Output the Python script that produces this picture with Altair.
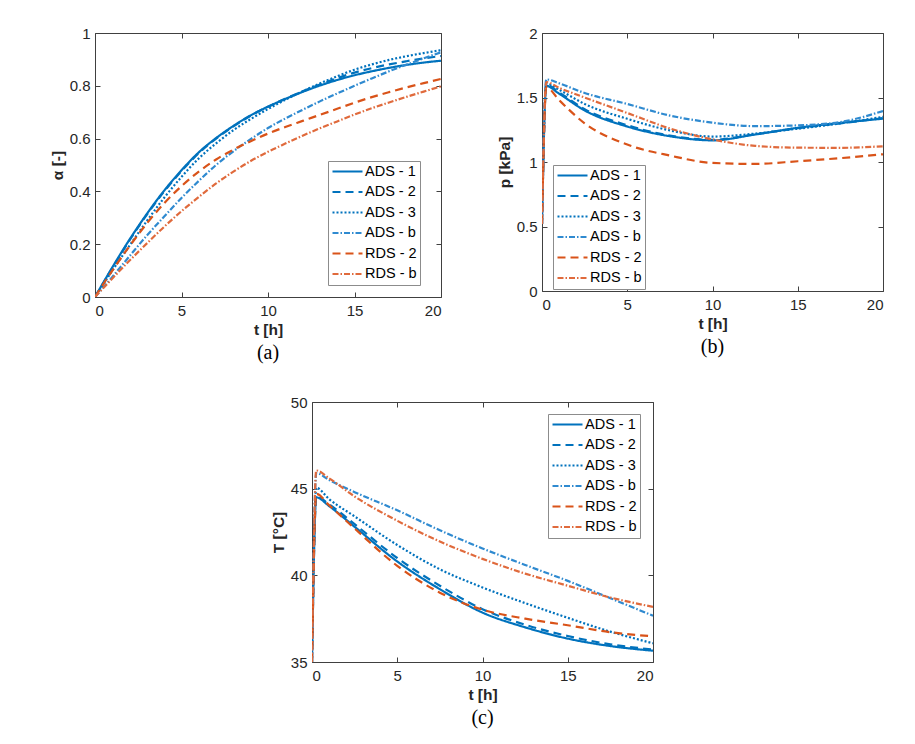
import altair as alt
import pandas as pd

SERIES = ["ADS - 1", "ADS - 2", "ADS - 3", "ADS - b", "RDS - 2", "RDS - b"]
COLORS = ["#0072BD", "#0072BD", "#0072BD", "#2F8AD0", "#D95319", "#E06A3C"]
DASHES = [[1, 0], [8, 5], [2, 2], [6, 2, 1.5, 2], [8, 5], [6, 2, 1.5, 2]]
WIDTHS = [2.2, 2.2, 2.2, 0.9, 2.2, 0.9]
X_TICKS = [0, 5, 10, 15, 20]

# ---------------- (a) degree of conversion alpha ----------------
t_a = list(range(21))
ads1_a = [0, 0.112, 0.218, 0.315, 0.403, 0.48, 0.548, 0.602, 0.648, 0.688, 0.721,
          0.75, 0.777, 0.801, 0.822, 0.84, 0.855, 0.868, 0.879, 0.888, 0.895]
ads2_a = [0, 0.11, 0.215, 0.312, 0.4, 0.477, 0.545, 0.6, 0.646, 0.687, 0.721,
          0.751, 0.779, 0.805, 0.829, 0.85, 0.867, 0.881, 0.893, 0.904, 0.913]
ads3_a = [0, 0.1, 0.195, 0.288, 0.376, 0.455, 0.525, 0.582, 0.632, 0.674, 0.712,
          0.747, 0.779, 0.809, 0.836, 0.861, 0.881, 0.898, 0.912, 0.924, 0.935]
adsb_a = [0, 0.076, 0.155, 0.233, 0.305, 0.375, 0.44, 0.5, 0.552, 0.598, 0.64,
          0.676, 0.709, 0.741, 0.771, 0.8, 0.828, 0.855, 0.88, 0.904, 0.927]
rds2_a = [0, 0.1, 0.193, 0.279, 0.355, 0.42, 0.475, 0.521, 0.558, 0.59, 0.619,
          0.644, 0.667, 0.69, 0.713, 0.736, 0.757, 0.776, 0.794, 0.81, 0.826]
rdsb_a = [0, 0.07, 0.138, 0.203, 0.266, 0.325, 0.379, 0.43, 0.475, 0.515, 0.55,
          0.581, 0.611, 0.639, 0.665, 0.691, 0.715, 0.737, 0.758, 0.778, 0.798]

# ---------------- (b) pressure p [kPa] ----------------
t_b = [0, 0.25, 1, 2.5, 5, 7.5, 10, 12.5, 15, 17.5, 20]
ads1_b = [0.52, 1.59, 1.53, 1.40, 1.275, 1.2, 1.168, 1.213, 1.265, 1.303, 1.336]
ads2_b = [0.52, 1.60, 1.54, 1.41, 1.285, 1.205, 1.172, 1.215, 1.262, 1.30, 1.34]
ads3_b = [0.52, 1.61, 1.56, 1.45, 1.335, 1.245, 1.197, 1.22, 1.258, 1.30, 1.35]
adsb_b = [0.52, 1.64, 1.61, 1.535, 1.45, 1.36, 1.305, 1.278, 1.284, 1.31, 1.395]
rds2_b = [0.52, 1.58, 1.48, 1.30, 1.135, 1.05, 0.993, 0.985, 1.006, 1.03, 1.06]
rdsb_b = [0.52, 1.62, 1.575, 1.50, 1.38, 1.26, 1.175, 1.125, 1.111, 1.11, 1.122]

# ---------------- (c) temperature T [°C] ----------------
t_c = [0, 0.25, 1, 2.5, 5, 7.5, 10, 12.5, 15, 17.5, 20]
ads1_c = [35, 44.5, 44.0, 42.8, 40.8, 39.2, 37.85, 37.0, 36.35, 35.92, 35.65]
ads2_c = [35, 44.55, 44.1, 42.95, 41.0, 39.4, 38.05, 37.15, 36.5, 36.02, 35.72]
ads3_c = [35, 45.05, 44.4, 43.4, 41.75, 40.35, 39.3, 38.4, 37.55, 36.75, 36.08]
adsb_c = [35, 45.9, 45.5, 44.8, 43.75, 42.6, 41.55, 40.6, 39.68, 38.68, 37.67]
rds2_c = [35, 44.7, 44.05, 42.7, 40.55, 39.0, 38.02, 37.5, 37.12, 36.72, 36.48]
rdsb_c = [35, 46.05, 45.6, 44.55, 43.15, 41.95, 40.95, 40.1, 39.4, 38.72, 38.18]


def long_df(t, series_values):
    rows = []
    for name, vals in zip(SERIES, series_values):
        for i, (tt, v) in enumerate(zip(t, vals)):
            rows.append({"t": tt, "v": v, "series": name, "i": i})
    return pd.DataFrame(rows)


def panel(df, ytitle, ydom, yticks, w, h, legx, legy, caption):
    xs = alt.Scale(domain=[0, 20], nice=False, zero=False)
    ys = alt.Scale(domain=ydom, nice=False, zero=False)
    leg = alt.Legend(orient="none", legendX=legx, legendY=legy, title=None,
                     symbolType="stroke", symbolSize=900, clipHeight=15,
                     rowPadding=4.5, labelFont="Liberation Sans", labelFontSize=14.5,
                     labelColor="black", fillColor="white", strokeColor="#8c8c8c",
                     padding=3, labelOffset=1)
    lines = alt.Chart(df).mark_line(interpolate="monotone", clip=True).encode(
        x=alt.X("t:Q", scale=xs, axis=alt.Axis(values=X_TICKS, title="t [h]", ticks=False,
                                               domain=False, labelPadding=6, titlePadding=4)),
        y=alt.Y("v:Q", scale=ys, axis=alt.Axis(values=yticks, title=ytitle, format="~g",
                                               ticks=False, domain=False, labelPadding=5,
                                               titlePadding=4)),
        color=alt.Color("series:N", scale=alt.Scale(domain=SERIES, range=COLORS), legend=leg),
        strokeDash=alt.StrokeDash("series:N", scale=alt.Scale(domain=SERIES, range=DASHES), legend=leg),
        strokeWidth=alt.StrokeWidth("series:N", scale=alt.Scale(domain=SERIES, range=WIDTHS), legend=leg),
        order="i:Q",
    )

    def tick_layer(xo, yo):
        return alt.Chart(df).mark_point(opacity=0).encode(
            x=alt.X("t:Q", scale=xs, axis=alt.Axis(values=X_TICKS, orient=xo, offset=-5, labels=False,
                                                   domain=False, ticks=True, tickSize=5, title=None,
                                                   tickColor="#404040")),
            y=alt.Y("v:Q", scale=ys, axis=alt.Axis(values=yticks, orient=yo, offset=-5, labels=False,
                                                   domain=False, ticks=True, tickSize=5, title=None,
                                                   tickColor="#404040")),
        )

    return alt.layer(lines, tick_layer("bottom", "left"), tick_layer("top", "right")).resolve_axis(
        x="independent", y="independent"
    ).properties(
        width=w, height=h,
        title=alt.TitleParams(caption, orient="bottom", font="Liberation Serif", fontSize=20,
                              fontWeight="normal", color="black", offset=5),
    )


df_a = long_df(t_a, [ads1_a, ads2_a, ads3_a, adsb_a, rds2_a, rdsb_a])
df_b = long_df(t_b, [ads1_b, ads2_b, ads3_b, adsb_b, rds2_b, rdsb_b])
df_c = long_df(t_c, [ads1_c, ads2_c, ads3_c, adsb_c, rds2_c, rdsb_c])

pa = panel(df_a, "α [-]", [0, 1], [0, 0.2, 0.4, 0.6, 0.8, 1], 346, 264, 233, 128, "(a)")
pb = panel(df_b, "p [kPa]", [0, 2], [0, 0.5, 1, 1.5, 2], 341, 258, 11, 132, "(b)")
pc = panel(df_c, "T [°C]", [35, 50], [35, 40, 45, 50], 341, 260, 236, 12, "(c)")

spacer = alt.Chart(pd.DataFrame({"s": [0]})).mark_point(opacity=0).encode(
    x=alt.X("s:Q", axis=None), y=alt.Y("s:Q", axis=None)
).properties(width=174, height=10, view=alt.ViewBackground(stroke="transparent"))

top = alt.hconcat(pa, pb, spacing=51).resolve_scale(
    color="independent", strokeDash="independent", strokeWidth="independent")
bottom = alt.hconcat(spacer, pc, spacing=0).resolve_scale(
    color="independent", strokeDash="independent", strokeWidth="independent")

chart = alt.vconcat(top, bottom, spacing=31).resolve_scale(
    color="independent", strokeDash="independent", strokeWidth="independent"
).properties(
    padding={"left": 41, "top": 17, "right": 5, "bottom": 5}, background="white"
).configure_view(stroke="#404040", strokeWidth=1).configure_axis(
    grid=False, labelFont="Liberation Sans", labelFontSize=15, labelColor="#262626",
    titleFont="Liberation Sans", titleFontSize=15.5, titleFontWeight="bold", titleColor="#262626"
)

chart.save("out.html", embed_options={"renderer": "svg", "actions": False})
